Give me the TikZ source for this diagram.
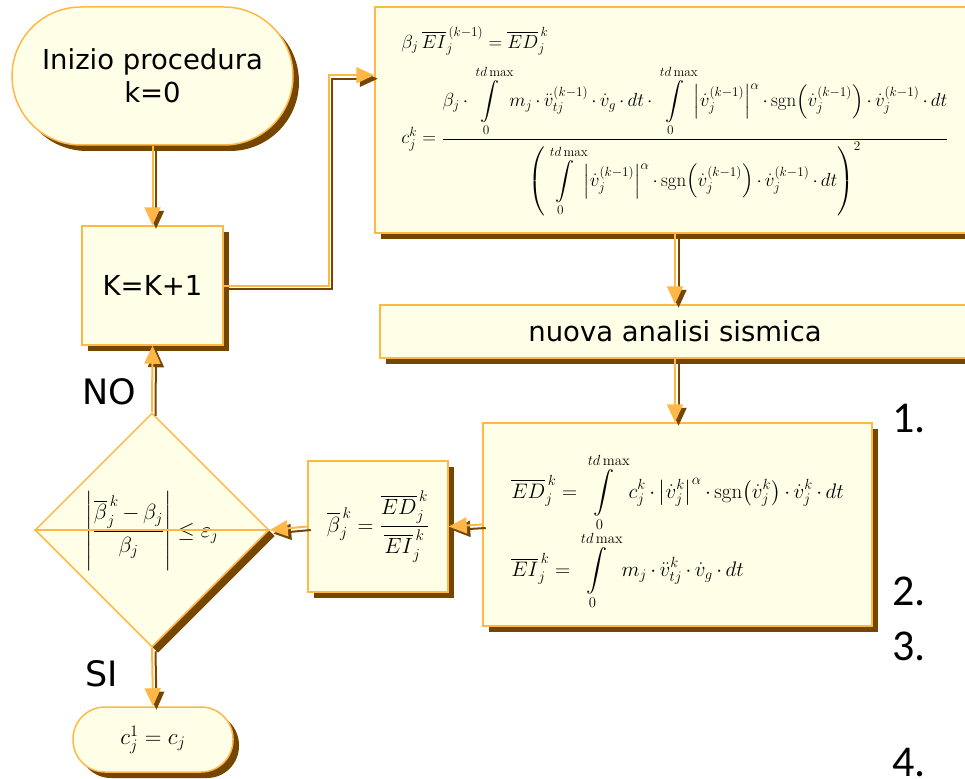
\documentclass[tikz,border=0pt]{standalone}
\usepackage{amsmath,amssymb}
\usepackage{fix-cm}
\usepackage{fontspec}
\newfontfamily\verd{DejaVu Sans}
\newfontfamily\cali{Carlito}
\usepackage{tikz}
\usetikzlibrary{arrows.meta,positioning,calc,shapes.geometric,shadows}
\definecolor{fyellow}{RGB}{255,255,232}
\definecolor{forange}{RGB}{255,184,72}
\definecolor{fbrown}{RGB}{117,70,0}
\medmuskip=3mu
\newcommand\lowered[2]{\raisebox{#1}[0pt][0pt]{#2}}
\tikzset{
  blk/.style  ={rectangle, draw=forange, line width=1.5pt, fill=fyellow,
                inner sep=0pt, align=center, font=\verd\fontsize{27.5}{33}\selectfont,
                drop shadow={fill=fbrown, opacity=1, shadow xshift=6pt, shadow yshift=-6pt}},
  term/.style ={blk, rounded corners=#1},
  dec/.style  ={blk, diamond, aspect=1},
  mth/.style  ={font=\fontsize{#1}{#1}\selectfont},
  ar/.style   ={-{Triangle[length=18pt,width=16pt]}, draw=forange, line width=2pt},
  arsh/.style ={ar, draw=fbrown, transform canvas={xshift=3.5pt,yshift=-3.5pt}},
  lbl/.style  ={font=\verd\fontsize{35}{40}\selectfont},
  num/.style  ={font=\cali\fontsize{44}{50}\selectfont, anchor=base west}
}
% connector with its brown shadow
\newcommand\flowline[1]{\draw[arsh] #1; \draw[ar] #1;}

\begin{document}
\begin{tikzpicture}[x=1pt, y=-1pt]
\useasboundingbox (0,0) rectangle (965,778);
\clip (0,0) rectangle (965,778);

% left column
\node[term=69pt, minimum width=281pt, minimum height=138pt] (start) at (152.5,76)
  {Inizio procedura\\k=0};
\node[blk, minimum width=141pt, minimum height=119pt] (inc) at (152.5,285.5) {K=K+1};
\node[dec, mth=22, minimum width=234pt, minimum height=234pt] (test) at (152,530)
  {\lowered{-7pt}{$\left|\dfrac{\overline{\beta}_j^{\,k}-\beta_j}{\beta_j}\right|\le\varepsilon_j$}};
\node[term=32pt, mth=23, minimum width=160pt, minimum height=65pt] (stop) at (153,739.5)
  {$c_j^1=c_j$};

% right column
\node[blk, mth=19, minimum width=600pt, minimum height=226pt] (upd) at (675,120)
  {\lowered{-6pt}{\begin{tabular}{@{}l@{}}
   $\beta_j\,\overline{EI}_j^{\,(k-1)}=\overline{ED}_j^{\,k}$\\[12pt]
   $\displaystyle c_j^k=\frac{\displaystyle\beta_j\cdot\int\limits_0^{td\max}\!m_j\cdot\ddot{v}_{tj}^{(k-1)}\cdot\dot{v}_g\cdot dt\cdot
     \int\limits_0^{td\max}\!\left|\dot{v}_j^{(k-1)}\right|^{\alpha}\cdot\operatorname{sgn}\!\left(\dot{v}_j^{(k-1)}\right)\cdot\dot{v}_j^{(k-1)}\cdot dt}
    {\displaystyle\left(\int\limits_0^{td\max}\!\left|\dot{v}_j^{(k-1)}\right|^{\alpha}\cdot\operatorname{sgn}\!\left(\dot{v}_j^{(k-1)}\right)\cdot\dot{v}_j^{(k-1)}\cdot dt\right)^2}$
  \end{tabular}}};
\node[blk, minimum width=590pt, minimum height=53pt] (sism) at (675,331.5)
  {nuova analisi sismica};
\node[blk, mth=21, minimum width=389pt, minimum height=203pt] (energy) at (677.5,524.5)
  {\lowered{-12pt}{\begin{tabular}{@{}l@{}}
   $\displaystyle\overline{ED}_j^{\,k}=\int\limits_0^{td\max}c_j^k\cdot\left|\dot{v}_j^k\right|^{\alpha}\cdot\operatorname{sgn}\!\left(\dot{v}_j^k\right)\cdot\dot{v}_j^k\cdot dt$\\[10pt]
   $\displaystyle\overline{EI}_j^{\,k}=\int\limits_0^{td\max}m_j\cdot\ddot{v}_{tj}^k\cdot\dot{v}_g\cdot dt$
  \end{tabular}}};
\node[blk, mth=22, minimum width=140pt, minimum height=131pt] (ratio) at (378,526.5)
  {$\overline{\beta}_j^{\,k}=\dfrac{\overline{ED}_j^{\,k}}{\overline{EI}_j^{\,k}}$};

% numbers of the list beside
\node[num] (n1) at (889,432) {1.};
\node[num] (n2) at (889,605) {2.};
\node[num] (n3) at (889,660) {3.};
\node[num] (n4) at (889,776) {4.};

\draw[forange, line width=1.2pt] (test.west) -- (test.east);

\flowline{(start.south) -- (inc.north)}
\flowline{(inc.east) -- ++(105,0) |- ($(upd.north west)+(0,69)$)}
\flowline{(upd.south) -- (sism.north)}
\flowline{(sism.south) -- (sism.south |- energy.north)}
\flowline{(energy.west) -- (ratio.east)}
\flowline{(ratio.west) -- (test.east)}
\flowline{(test.north) -- (inc.south)}
\flowline{(test.south) -- (stop.north)}

\node[lbl] (no) at (109,392) {NO};
\node[lbl] (si) at (102,674) {SI};
\end{tikzpicture}
\end{document}
